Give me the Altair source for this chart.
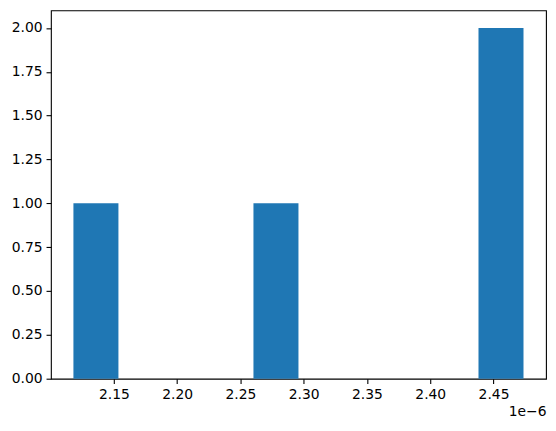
import altair as alt
import numpy as np
import pandas as pd

# raw sample values (in units of 1e-6)
values = [2.1180, 2.2790, 2.4650, 2.4737]
n_bins = 10

counts, edges = np.histogram(values, bins=n_bins)
df = pd.DataFrame({"start": edges[:-1], "end": edges[1:], "count": counts})

x_ticks = [2.15, 2.20, 2.25, 2.30, 2.35, 2.40, 2.45]
y_ticks = [0.0, 0.25, 0.5, 0.75, 1.0, 1.25, 1.5, 1.75, 2.0]

span = edges[-1] - edges[0]
x_domain = [edges[0] - 0.05 * span, edges[-1] + 0.05 * span]
y_domain = [0, counts.max() * 1.05]

W, H = 496, 369
FONT = "DejaVu Sans"
FS = 13.9

chart = alt.Chart(df).mark_rect(color="#1f77b4").encode(
    x=alt.X("start:Q",
            scale=alt.Scale(domain=x_domain, nice=False, zero=False),
            axis=alt.Axis(values=x_ticks, format=".2f", title="1e\u22126",
                          titleAnchor="end", titleAlign="right", titleBaseline="middle",
                          titleX=W, titleY=33, titleFontWeight="normal",
                          titleFont=FONT, titleFontSize=FS, titleColor="black",
                          grid=False, domain=False, tickColor="black", tickSize=4.9,
                          tickWidth=1.1, labelPadding=3.5, labelFont=FONT,
                          labelFontSize=FS, labelColor="black", labelFlush=False)),
    x2="end:Q",
    y=alt.Y("count:Q",
            scale=alt.Scale(domain=y_domain, nice=False),
            axis=alt.Axis(values=y_ticks, format=".2f", title=None, grid=False,
                          domain=False, tickColor="black", tickSize=4.9, tickWidth=1.1,
                          labelPadding=4, labelFont=FONT, labelFontSize=FS,
                          labelColor="black", labelFlush=False)),
    y2=alt.datum(0),
).properties(
    width=W, height=H,
    autosize=alt.AutoSizeParams(type="none"),
    padding={"left": 43, "top": 2, "right": 2, "bottom": 44},
).configure_view(stroke="black", strokeWidth=1.1)

chart.save("out.html", embed_options={"renderer": "svg", "actions": False})
